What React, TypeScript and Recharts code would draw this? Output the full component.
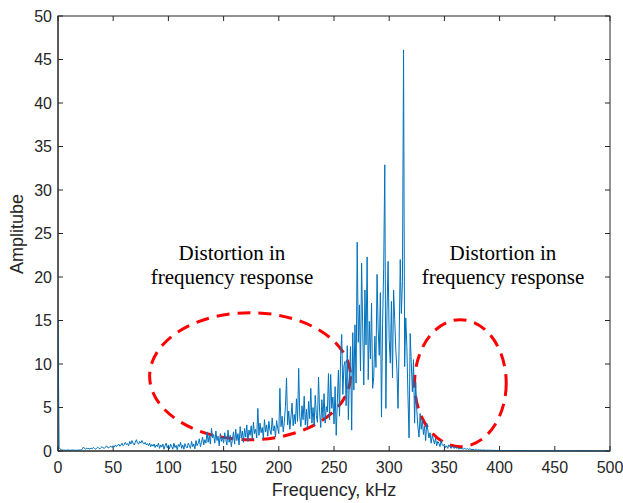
import React from 'react';
import { LineChart, Line, XAxis, YAxis, ReferenceArea } from 'recharts';

const STEP_KHZ = 1;
const xTicks = [0, 50, 100, 150, 200, 250, 300, 350, 400, 450, 500];
const yTicks = [0, 5, 10, 15, 20, 25, 30, 35, 40, 45, 50];

// amplitude, 0 .. 129 kHz
const ampLow = [
  15.0, 0.4, 0.2, 0.15, 0.1, 0.12, 0.1, 0.08, 0.1, 0.12,
  0.1, 0.08, 0.1, 0.12, 0.1, 0.09, 0.1, 0.08, 0.1, 0.11,
  0.1, 0.12, 0.2, 0.45, 0.3, 0.2, 0.35, 0.25, 0.3, 0.2,
  0.35, 0.25, 0.4, 0.3, 0.2, 0.35, 0.45, 0.3, 0.25, 0.4,
  0.5, 0.35, 0.3, 0.45, 0.6, 0.4, 0.35, 0.5, 0.55, 0.4,
  0.6, 0.45, 0.7, 0.5, 0.65, 0.8, 0.55, 0.7, 0.9, 0.6,
  0.75, 1.0, 0.7, 0.85, 0.6, 1.1, 0.8, 1.2, 0.9, 0.7,
  1.0, 1.3, 0.9, 0.8, 1.1, 0.9, 1.2, 0.95, 0.8, 1.0,
  0.7, 0.85, 0.6, 0.9, 0.5, 0.75, 0.55, 0.8, 0.4, 0.7,
  0.5, 0.9, 0.3, 0.7, 0.45, 0.8, 0.2, 0.6, 0.9, 0.35,
  0.7, 0.25, 0.8, 0.5, 0.2, 0.9, 0.4, 0.65, 0.15, 0.75,
  0.5, 1.0, 0.3, 0.7, 0.2, 0.85, 0.5, 0.35, 0.9, 0.6,
  0.3, 1.1, 0.5, 0.8, 0.25, 1.2, 0.6, 0.9, 1.4, 0.5,
];

// amplitude, 130 .. 259 kHz
const ampMid = [
  1.0, 1.6, 0.7, 1.3, 0.9, 2.2, 1.0, 1.8, 0.8, 2.6,
  1.5, 1.9, 0.9, 2.3, 1.2, 1.7, 0.6, 2.0, 1.1, 1.6,
  0.9, 2.1, 1.3, 0.7, 2.4, 1.0, 1.8, 0.5, 1.4, 2.2,
  0.8, 2.5, 1.2, 2.0, 0.7, 2.8, 1.5, 2.3, 1.0, 2.6,
  1.6, 3.0, 1.1, 2.4, 1.8, 2.9, 1.3, 3.3, 2.0, 2.5,
  1.5, 4.9, 1.8, 3.2, 2.1, 2.7, 1.4, 3.6, 2.2, 3.0,
  1.7, 3.4, 2.4, 1.9, 3.8, 2.3, 2.9, 1.6, 3.5, 2.6,
  2.0, 7.2, 2.8, 4.0, 2.2, 3.3, 5.1, 8.4, 3.0, 4.6,
  2.5, 3.9, 5.5, 2.9, 4.2, 3.1, 6.0, 3.4, 9.5, 4.0,
  2.8, 5.2, 3.6, 6.3, 3.0, 4.8, 2.6, 5.7, 3.7, 7.2,
  3.2, 5.0, 2.9, 6.4, 4.1, 3.3, 8.5, 4.4, 2.7, 5.9,
  3.8, 6.6, 3.2, 5.1, 4.5, 8.9, 3.6, 8.8, 4.9, 6.2,
  3.1, 7.4, 1.8, 5.6, 9.3, 4.0, 11.0, 13.4, 6.5, 9.8,
];

// amplitude, 260 .. 339 kHz
const ampPeak = [
  10.3, 5.2, 12.1, 3.6, 8.5, 12.0, 2.4, 13.6, 7.0, 14.5,
  7.8, 24.0, 12.5, 16.8, 9.2, 21.6, 14.0, 7.6, 18.5, 12.2,
  22.3, 8.2, 14.9, 10.6, 17.0, 7.2, 8.5, 13.2, 9.6, 20.3,
  13.9, 11.0, 18.2, 3.9, 14.5, 21.0, 32.9, 4.9, 16.0, 21.8,
  12.8, 10.1, 17.2, 8.4, 18.5, 15.1, 11.6, 9.3, 4.9, 12.4,
  22.0, 15.8, 19.5, 46.1, 9.7, 15.3, 12.0, 6.3, 1.5, 13.5,
  10.2, 6.8, 10.5, 3.2, 7.9, 4.7, 2.8, 1.6, 4.3, 2.5,
  3.6, 1.9, 2.9, 1.2, 3.2, 2.4, 1.5, 2.1, 0.9, 1.8,
];

// amplitude, 340 .. 500 kHz
const ampTail = [
  1.3, 0.8, 1.5, 0.6, 1.1, 0.9, 0.5, 1.2, 0.7, 0.6,
  0.8, 0.4, 0.6, 0.3, 0.7, 0.5, 0.3, 0.6, 0.4, 0.3,
  0.5, 0.3, 0.4, 0.2, 0.35, 0.25, 0.3, 0.2, 0.3, 0.25,
  0.2, 0.3, 0.15, 0.25, 0.2, 0.15, 0.2, 0.1, 0.2, 0.15,
  0.1, 0.15, 0.1, 0.12, 0.08, 0.1, 0.12, 0.08, 0.1, 0.09,
  0.08, 0.1, 0.07, 0.09, 0.06, 0.08, 0.07, 0.06, 0.08, 0.05,
  0.06, 0.05, 0.07, 0.04, 0.06, 0.05, 0.04, 0.06, 0.05, 0.04,
  0.05, 0.04, 0.06, 0.04, 0.05, 0.03, 0.05, 0.04, 0.03, 0.05,
  0.04, 0.03, 0.05, 0.04, 0.03, 0.04, 0.05, 0.03, 0.04, 0.03,
  0.04, 0.03, 0.04, 0.05, 0.03, 0.04, 0.03, 0.04, 0.03, 0.04,
  0.03, 0.04, 0.03, 0.02, 0.04, 0.03, 0.04, 0.03, 0.02, 0.03,
  0.04, 0.03, 0.02, 0.03, 0.04, 0.03, 0.02, 0.03, 0.03, 0.02,
  0.03, 0.02, 0.03, 0.04, 0.02, 0.03, 0.02, 0.03, 0.02, 0.03,
  0.02, 0.03, 0.02, 0.03, 0.02, 0.02, 0.03, 0.02, 0.03, 0.02,
  0.02, 0.03, 0.02, 0.02, 0.03, 0.02, 0.02, 0.03, 0.02, 0.02,
  0.03, 0.02, 0.02, 0.03, 0.02, 0.02, 0.02, 0.03, 0.02, 0.02,
  0.02,
];

// distortion regions (freq kHz, amplitude)
const distortionLeft = { f1: 83, f2: 265, a1: 1.3, a2: 15.9 };
const distortionRight = { f1: 323, f2: 406, a1: 0.5, a2: 15.1 };
const annotationLines = ['Distortion in', 'frequency response'];

const amplitude = [...ampLow, ...ampMid, ...ampPeak, ...ampTail];
const data = amplitude.map((a, i) => ({ f: i * STEP_KHZ, a }));

const AXIS = '#262626';
const tickStyle = { fontFamily: '"Liberation Sans", Arial, sans-serif', fontSize: 16, fill: AXIS };

const ellipseShape = (p: any) => (
  <ellipse
    cx={p.x + p.width / 2}
    cy={p.y + p.height / 2}
    rx={Math.abs(p.width) / 2}
    ry={Math.abs(p.height) / 2}
    fill="none"
    stroke="#ff0000"
    strokeWidth={3}
    strokeDasharray="13 8"
  />
);

// box around the plot with inward ticks on all four sides
const boxShape = (p: any) => {
  const { x, y, width, height } = p;
  const nx = xTicks.length - 1;
  const ny = yTicks.length - 1;
  const t = 5;
  const lines: React.ReactNode[] = [];
  for (let i = 0; i <= nx; i++) {
    const xx = x + (width * i) / nx;
    lines.push(<line key={'tb' + i} x1={xx} x2={xx} y1={y + height} y2={y + height - t} />);
    lines.push(<line key={'tt' + i} x1={xx} x2={xx} y1={y} y2={y + t} />);
  }
  for (let j = 0; j <= ny; j++) {
    const yy = y + (height * j) / ny;
    lines.push(<line key={'tl' + j} x1={x} x2={x + t} y1={yy} y2={yy} />);
    lines.push(<line key={'tr' + j} x1={x + width} x2={x + width - t} y1={yy} y2={yy} />);
  }
  return (
    <g stroke={AXIS} strokeWidth={1} fill="none">
      <rect x={x} y={y} width={width} height={height} />
      {lines}
    </g>
  );
};

export default function App() {
  return (
    <div style={{ position: 'absolute', left: 0, top: 0, width: 623, height: 503, background: '#fff' }}>
      <LineChart width={623} height={503} data={data} margin={{ top: 16, right: 13, bottom: 0, left: 0 }}>
        <XAxis
          xAxisId="b"
          dataKey="f"
          type="number"
          domain={[0, 500]}
          ticks={xTicks}
          height={52}
          tickSize={0}
          tickMargin={11}
          tick={tickStyle}
          axisLine={{ stroke: AXIS }}
          tickLine={false}
          allowDataOverflow
        />
        <YAxis
          yAxisId="l"
          type="number"
          domain={[0, 50]}
          ticks={yTicks}
          width={58}
          tickSize={0}
          tickMargin={6}
          tick={tickStyle}
          axisLine={{ stroke: AXIS }}
          tickLine={false}
        />
        <Line
          xAxisId="b"
          yAxisId="l"
          type="linear"
          dataKey="a"
          stroke="#0072BD"
          strokeWidth={1}
          dot={false}
          isAnimationActive={false}
        />
        <ReferenceArea
          xAxisId="b"
          yAxisId="l"
          x1={0}
          x2={500}
          y1={0}
          y2={50}
          shape={boxShape}
        />
        <ReferenceArea
          xAxisId="b"
          yAxisId="l"
          x1={distortionLeft.f1}
          x2={distortionLeft.f2}
          y1={distortionLeft.a1}
          y2={distortionLeft.a2}
          shape={ellipseShape}
        />
        <ReferenceArea
          xAxisId="b"
          yAxisId="l"
          x1={distortionRight.f1}
          x2={distortionRight.f2}
          y1={distortionRight.a1}
          y2={distortionRight.a2}
          shape={ellipseShape}
        />
      </LineChart>
      <svg
        width={623}
        height={503}
        style={{ position: 'absolute', left: 0, top: 0, pointerEvents: 'none' }}
      >
        <g fontFamily='"Liberation Serif", "Times New Roman", serif' fontSize={21} fill="#000" textAnchor="middle">
          <text x={232} y={260}>{annotationLines[0]}</text>
          <text x={232} y={284}>{annotationLines[1]}</text>
          <text x={503} y={260}>{annotationLines[0]}</text>
          <text x={503} y={284}>{annotationLines[1]}</text>
        </g>
        <g fontFamily='"Liberation Sans", Arial, sans-serif' fontSize={18} fill={AXIS} textAnchor="middle">
          <text x={334} y={496}>Frequency, kHz</text>
          <text x={23} y={234} transform="rotate(-90 23 234)">Amplitube</text>
        </g>
      </svg>
    </div>
  );
}
